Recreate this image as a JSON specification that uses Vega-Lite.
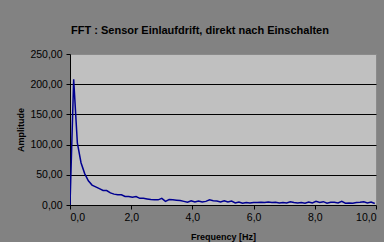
{
  "$schema": "https://vega.github.io/schema/vega-lite/v6.json",
  "autosize": {"type": "none"},
  "padding": {"left": 70, "top": 54, "right": 8, "bottom": 37},
  "width": 306,
  "height": 151,
  "background": "#828282",
  "title": {
    "text": "FFT : Sensor Einlaufdrift, direkt nach Einschalten",
    "anchor": "middle",
    "frame": "group",
    "dx": -23,
    "offset": 13
  },
  "config": {
    "title": {"font": "Liberation Sans", "fontSize": 11, "fontWeight": 700, "color": "#000000"},
    "view": {"fill": "#c0c0c0", "stroke": "#8a8a8a", "strokeWidth": 1},
    "axis": {
      "labelFont": "Liberation Sans",
      "labelFontSize": 10.5,
      "labelColor": "#000000",
      "titleFont": "Liberation Sans",
      "titleFontSize": 9,
      "titleFontWeight": "bold",
      "titleColor": "#000000",
      "domainColor": "#000000",
      "tickColor": "#000000",
      "tickSize": 4
    }
  },
  "data": {
    "values": [
      {"f": 0.00, "a": 0}, {"f": 0.12, "a": 208}, {"f": 0.24, "a": 103}, {"f": 0.36, "a": 70},
      {"f": 0.48, "a": 52}, {"f": 0.60, "a": 40}, {"f": 0.72, "a": 33}, {"f": 0.84, "a": 30},
      {"f": 0.96, "a": 27}, {"f": 1.08, "a": 24}, {"f": 1.20, "a": 24}, {"f": 1.32, "a": 20},
      {"f": 1.44, "a": 18}, {"f": 1.56, "a": 17}, {"f": 1.68, "a": 17}, {"f": 1.80, "a": 14},
      {"f": 1.92, "a": 14}, {"f": 2.04, "a": 13}, {"f": 2.16, "a": 14}, {"f": 2.28, "a": 11},
      {"f": 2.40, "a": 11}, {"f": 2.52, "a": 10}, {"f": 2.64, "a": 9}, {"f": 2.76, "a": 8.5},
      {"f": 2.88, "a": 8.5}, {"f": 3.00, "a": 11}, {"f": 3.12, "a": 6}, {"f": 3.24, "a": 9},
      {"f": 3.36, "a": 8.5}, {"f": 3.48, "a": 8}, {"f": 3.60, "a": 7.5}, {"f": 3.72, "a": 6},
      {"f": 3.84, "a": 4.5}, {"f": 3.96, "a": 7}, {"f": 4.08, "a": 5}, {"f": 4.20, "a": 6.5},
      {"f": 4.32, "a": 5}, {"f": 4.44, "a": 6}, {"f": 4.56, "a": 8.5}, {"f": 4.68, "a": 7},
      {"f": 4.80, "a": 6.5}, {"f": 4.92, "a": 5}, {"f": 5.04, "a": 7}, {"f": 5.16, "a": 5},
      {"f": 5.28, "a": 6.5}, {"f": 5.40, "a": 3.5}, {"f": 5.52, "a": 5}, {"f": 5.64, "a": 3},
      {"f": 5.76, "a": 4}, {"f": 5.88, "a": 3.5}, {"f": 6.00, "a": 4}, {"f": 6.12, "a": 4},
      {"f": 6.24, "a": 4.5}, {"f": 6.36, "a": 4}, {"f": 6.48, "a": 5}, {"f": 6.60, "a": 4},
      {"f": 6.72, "a": 4.5}, {"f": 6.84, "a": 3.5}, {"f": 6.96, "a": 4}, {"f": 7.08, "a": 3.5},
      {"f": 7.20, "a": 5.5}, {"f": 7.32, "a": 4}, {"f": 7.44, "a": 3.5}, {"f": 7.56, "a": 4},
      {"f": 7.68, "a": 3}, {"f": 7.80, "a": 5}, {"f": 7.92, "a": 3.5}, {"f": 8.04, "a": 6},
      {"f": 8.16, "a": 4}, {"f": 8.28, "a": 5.5}, {"f": 8.40, "a": 3}, {"f": 8.52, "a": 4.5},
      {"f": 8.64, "a": 4.5}, {"f": 8.76, "a": 3.5}, {"f": 8.88, "a": 6}, {"f": 9.00, "a": 3},
      {"f": 9.12, "a": 3.5}, {"f": 9.24, "a": 3}, {"f": 9.36, "a": 4}, {"f": 9.48, "a": 4.5},
      {"f": 9.60, "a": 5.5}, {"f": 9.72, "a": 3.5}, {"f": 9.84, "a": 5}, {"f": 9.96, "a": 2.5}
    ]
  },
  "mark": {"type": "line", "color": "#000090", "strokeWidth": 1.5, "clip": true},
  "encoding": {
    "x": {
      "field": "f",
      "type": "quantitative",
      "scale": {"domain": [0, 10], "nice": false, "zero": true},
      "axis": {
        "title": "Frequency [Hz]",
        "values": [0, 2, 4, 6, 8, 10],
        "grid": false,
        "labelExpr": "replace(format(datum.value, '.1f'), '.', ',')",
        "labelPadding": 3,
        "titlePadding": 10
      }
    },
    "y": {
      "field": "a",
      "type": "quantitative",
      "scale": {"domain": [0, 250], "nice": false},
      "axis": {
        "title": "Amplitude",
        "values": [0, 50, 100, 150, 200, 250],
        "grid": true,
        "gridColor": {"condition": {"test": "datum.value == 250 || datum.value == 0", "value": "#8a8a8a"}, "value": "#000000"},
        "gridOpacity": 1,
        "labelExpr": "replace(format(datum.value, '.2f'), '.', ',')",
        "labelPadding": 4,
        "titlePadding": 4
      }
    }
  }
}
